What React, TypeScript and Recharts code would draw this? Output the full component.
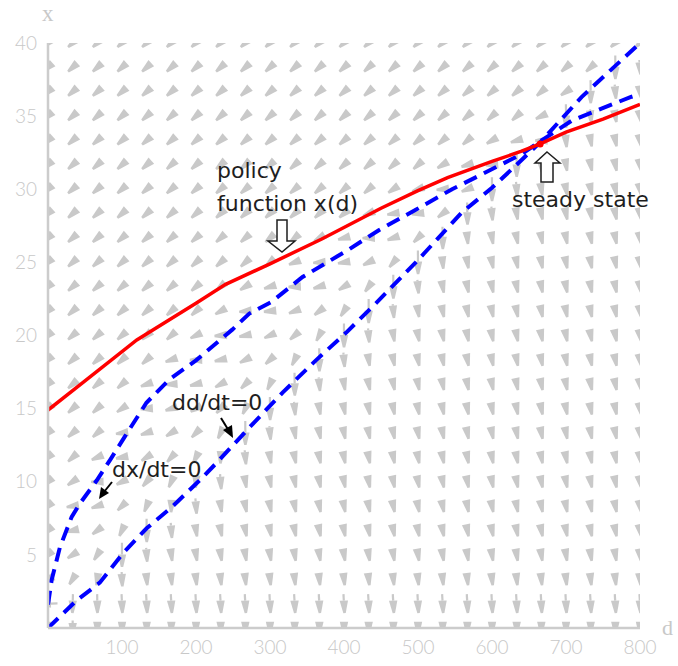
import React from 'react';
import { ComposedChart, XAxis, YAxis, Line, Scatter, ReferenceDot, Customized } from 'recharts';

// ---- axis ticks ----
const dTicks = [100, 200, 300, 400, 500, 600, 700, 800];
const xTicks = [5, 10, 15, 20, 25, 30, 35, 40];

// ---- policy function x(d) (red) ----
const policyD = [0, 50, 120, 200, 240, 300, 370, 450, 500, 540, 600, 640, 665, 700, 750, 800];
const policyX = [14.9, 16.9, 19.7, 22.2, 23.5, 24.9, 26.6, 28.7, 29.9, 30.8, 31.9, 32.6, 33.1, 33.9, 34.8, 35.8];

// ---- dx/dt = 0 nullcline (blue dashed, steeper at left) ----
const dxNullD = [0, 5, 16, 32, 43, 66, 84, 104, 133, 164, 200, 249, 272, 302, 344, 407, 447, 497, 546, 605, 640, 663, 708, 787, 800];
const dxNullX = [1.6, 3.3, 5.5, 7.6, 8.5, 10.1, 11.5, 13.1, 15.4, 17.0, 18.3, 20.4, 21.5, 22.3, 24.0, 25.9, 27.2, 28.6, 30.0, 31.5, 32.4, 33.2, 34.7, 36.3, 36.5];

// ---- dd/dt = 0 nullcline (blue dashed, lower) ----
const ddNullD = [0, 39, 70, 101, 133, 168, 205, 228, 272, 317, 362, 403, 443, 497, 559, 600, 640, 665, 721, 800];
const ddNullX = [0.0, 1.9, 3.1, 5.1, 6.8, 8.3, 10.1, 11.3, 13.7, 16.1, 18.3, 20.2, 22.2, 25.0, 28.4, 30.1, 32.0, 33.2, 36.3, 40.0];

// ---- steady state ----
const steadyD = 665;
const steadyX = 33.1;

// ---- vector field grid (25 x 25) ----
const gridD = Array.from({ length: 25 }, (_, i) => (i * 800) / 24);
const gridX = Array.from({ length: 25 }, (_, j) => (j * 40) / 24);

const toRows = (ds: number[], xs: number[]) => ds.map((d, i) => ({ d, x: xs[i] }));
const policyData = toRows(policyD, policyX);
const dxNullData = toRows(dxNullD, dxNullX);
const ddNullData = toRows(ddNullD, ddNullX);

const interp = (ds: number[], xs: number[], d: number) => {
  if (d <= ds[0]) return xs[0];
  for (let i = 1; i < ds.length; i++) {
    if (d <= ds[i]) {
      const t = (d - ds[i - 1]) / (ds[i] - ds[i - 1]);
      return xs[i - 1] + t * (xs[i] - xs[i - 1]);
    }
  }
  return xs[xs.length - 1];
};

// direction model of the flow (angle from straight down, positive = toward left)
const PX_PER_X = 14.625;
const fieldData: { d: number; x: number; ang: number; len: number }[] = [];
gridD.forEach((d) => {
  gridX.forEach((x, j) => {
    const tB = (x - interp(ddNullD, ddNullX, d)) * PX_PER_X;
    const tA = (x - interp(dxNullD, dxNullX, d)) * PX_PER_X;
    let ang = 0;
    let len = 12.5;
    if (tB >= 0) {
      if (tA >= 0) ang = 90 - 42 * Math.min(1, tA / 40);
      else {
        const f = tB / (tB - tA);
        ang = 90 * Math.pow(f, 0.8);
      }
    } else {
      ang = -12 * Math.min(1, -tB / 60) * Math.min(1, x / 6);
      len = 12.5 + 12 * Math.max(0, 1 - -tB / 30);
    }
    if (j === 1) len = Math.max(len, 19);
    fieldData.push({ d, x, ang, len });
  });
});

const ARROW = '#c9c9c9';
const renderArrow = (props: any) => {
  const { cx, cy, payload } = props;
  if (cx == null || cy == null) return <g />;
  const th = (payload.ang * Math.PI) / 180;
  const ux = -Math.sin(th);
  const uy = Math.cos(th);
  const L = payload.len;
  const hl = Math.min(L, 12.5);
  const tipX = cx + (ux * L) / 2;
  const tipY = cy + (uy * L) / 2;
  const tailX = cx - (ux * L) / 2;
  const tailY = cy - (uy * L) / 2;
  const bx = tipX - ux * hl;
  const by = tipY - uy * hl;
  const px = -uy;
  const py = ux;
  const wb = 4.2;
  const wt = 1.2;
  const pts = [
    [bx + px * wb, by + py * wb],
    [tipX + px * wt, tipY + py * wt],
    [tipX - px * wt, tipY - py * wt],
    [bx - px * wb, by - py * wb],
  ]
    .map((p) => `${p[0].toFixed(2)},${p[1].toFixed(2)}`)
    .join(' ');
  return (
    <g>
      {L > hl + 0.5 && (
        <line x1={tailX} y1={tailY} x2={bx} y2={by} stroke={ARROW} strokeWidth={2.2} />
      )}
      <polygon points={pts} fill={ARROW} />
    </g>
  );
};

const TXT = '#1e1e1e';
const FONT = 'DejaVu Sans';

const Annotations = () => (
  <g>
    {/* axis names */}
    <text x={42} y={21} fontFamily="Liberation Serif" fontSize={23} fill="#c8c8c8">x</text>
    <text x={662} y={635} fontFamily="Liberation Serif" fontSize={22} fill="#c8c8c8">d</text>

    {/* policy function label */}
    <text x={217} y={178} fontFamily={FONT} fontSize={22} fill={TXT}>policy</text>
    <text x={217} y={211} fontFamily={FONT} fontSize={22} fill={TXT}>function x(d)</text>
    <polygon
      points="277,220 287,220 287,241 295,241 282,252 268,241 277,241"
      fill="#ffffff"
      stroke={TXT}
      strokeWidth={1.5}
    />

    {/* steady state label */}
    <text x={512} y={207} fontFamily={FONT} fontSize={22} fill={TXT}>steady state</text>
    <polygon
      points="547,152 560,163 553,163 553,182 541,182 541,163 535,163"
      fill="#ffffff"
      stroke={TXT}
      strokeWidth={1.5}
    />

    {/* nullcline labels */}
    <text x={172} y={410} fontFamily={FONT} fontSize={22} fill={TXT}>dd/dt=0</text>
    <line x1={221} y1={418} x2={229} y2={431} stroke="#000" strokeWidth={2} />
    <polygon points="233,438 223,430 232,425" fill="#000" />

    <text x={112} y={477} fontFamily={FONT} fontSize={22} fill={TXT}>dx/dt=0</text>
    <line x1={112} y1={482} x2={104} y2={492} stroke="#000" strokeWidth={2} />
    <polygon points="99,499 101,487 109,493" fill="#000" />
  </g>
);

const tickStyle = { fill: '#c8c8c8', fontSize: 19, fontFamily: 'Lato', fontWeight: 300 };
const W = 678;
const H = 666;

export default function App() {
  return (
    <div style={{ position: 'absolute', left: 0, top: 0, width: W, height: H, background: '#fff' }}>
      {/* bottom layer: vector field */}
      <div style={{ position: 'absolute', left: 0, top: 0 }}>
        <ComposedChart width={W} height={H} margin={{ top: 43, right: 38, bottom: 38, left: 48 }}>
          <XAxis type="number" dataKey="d" domain={[0, 800]} allowDataOverflow hide />
          <YAxis type="number" dataKey="x" domain={[0, 40]} allowDataOverflow hide />
          <Scatter data={fieldData} dataKey="x" shape={renderArrow} isAnimationActive={false} />
        </ComposedChart>
      </div>
      {/* top layer: axes, curves, annotations */}
      <div style={{ position: 'absolute', left: 0, top: 0 }}>
        <ComposedChart width={W} height={H} margin={{ top: 43, right: 38, bottom: 0, left: 0 }}>
          <XAxis
            type="number"
            dataKey="d"
            domain={[0, 800]}
            ticks={dTicks}
            allowDataOverflow
            height={38}
            tickLine={false}
            tickMargin={7}
            axisLine={{ stroke: '#cccccc', strokeWidth: 2.5 }}
            tick={tickStyle}
          />
          <YAxis
            type="number"
            dataKey="x"
            domain={[0, 40]}
            ticks={xTicks}
            allowDataOverflow
            width={48}
            tickLine={false}
            tickMargin={5}
            axisLine={{ stroke: '#cccccc', strokeWidth: 2.5 }}
            tick={tickStyle}
          />
          <Line
            data={dxNullData}
            dataKey="x"
            type="linear"
            stroke="#0000ff"
            strokeWidth={4}
            strokeDasharray="14 8"
            dot={false}
            activeDot={false}
            isAnimationActive={false}
          />
          <Line
            data={ddNullData}
            dataKey="x"
            type="linear"
            stroke="#0000ff"
            strokeWidth={4}
            strokeDasharray="14 8"
            dot={false}
            activeDot={false}
            isAnimationActive={false}
          />
          <Line
            data={policyData}
            dataKey="x"
            type="linear"
            stroke="#ff0000"
            strokeWidth={3.5}
            dot={false}
            activeDot={false}
            isAnimationActive={false}
          />
          <ReferenceDot x={steadyD} y={steadyX} r={3.5} fill="#ff0000" stroke="none" />
          <Customized component={Annotations} />
        </ComposedChart>
      </div>
    </div>
  );
}
